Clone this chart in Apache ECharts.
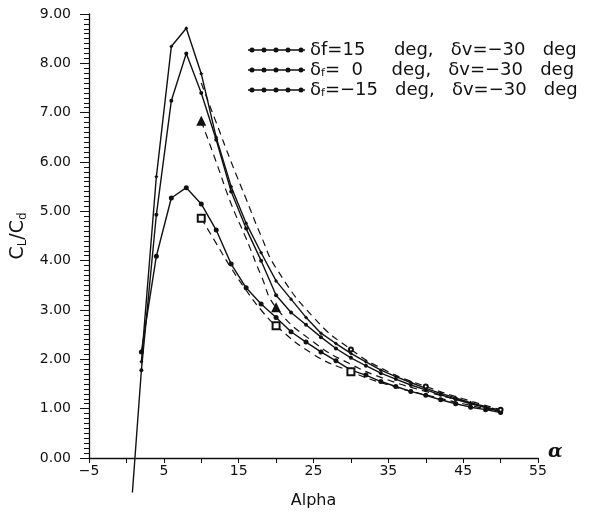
<!DOCTYPE html>
<html>
<head>
<meta charset="utf-8">
<script src="https://cdn.jsdelivr.net/npm/echarts@6/dist/echarts.min.js"></script>
<style>
  html, body { margin: 0; padding: 0; background: #fff; }
  #main { width: 598px; height: 514px; }
</style>
</head>
<body>
<div id="main"></div>
<script>
// angle of attack (deg)
const alpha = [0.8, 2, 4, 6, 8, 10, 12, 14, 16, 18, 20, 22, 24, 26, 28, 30, 32, 34, 36, 38, 40, 42, 44, 46, 48, 50];
// CL/CD, solid curves
const flap15 = [null, 2.15, 4.09, 5.27, 5.48, 5.15, 4.62, 3.93, 3.45, 3.12, 2.85, 2.56, 2.35, 2.15, 1.97, 1.78, 1.68, 1.55, 1.45, 1.35, 1.27, 1.18, 1.10, 1.03, 0.98, 0.92];
const flap0 = [-0.7, 1.78, 4.93, 7.24, 8.20, 7.40, 6.45, 5.40, 4.65, 4.00, 3.30, 2.95, 2.70, 2.45, 2.22, 2.03, 1.87, 1.72, 1.60, 1.48, 1.38, 1.28, 1.19, 1.10, 1.02, 0.94];
const flapM15 = [null, 1.95, 5.70, 8.34, 8.71, 7.79, 6.50, 5.50, 4.76, 4.16, 3.59, 3.22, 2.85, 2.53, 2.32, 2.12, 1.95, 1.78, 1.65, 1.53, 1.41, 1.31, 1.22, 1.12, 1.04, 0.94];
// dashed curves (no legend entry)
const alphaDash = [10, 12, 14, 16, 18, 20, 25, 30, 35, 40, 45, 50];
const dashTri = [6.83, 6.00, 5.15, 4.45, 3.70, 3.05, 2.35, 1.90, 1.58, 1.35, 1.15, 0.97];
const dashSq = [4.86, 4.35, 3.85, 3.40, 3.00, 2.68, 2.10, 1.75, 1.48, 1.28, 1.10, 0.93];
const dashUp = [7.60, 6.80, 6.00, 5.25, 4.50, 3.85, 2.85, 2.20, 1.75, 1.45, 1.20, 0.98];

const names = ["flap15", "flap0", "flapM15"];
const legendText = {
  flap15: "δf=15     deg,   δv=−30   deg",
  flap0: "δ{sub|f}=  0     deg,   δv=−30   deg",
  flapM15: "δ{sub|f}=−15   deg,   δv=−30   deg"
};

function pairs(xs, ys) {
  return xs.map((x, i) => [x, ys[i]]);
}

const FONT = "DejaVu Sans";
const INK = "#111";

// legend icon: line with dots (all subpaths clockwise so they fill solid)
const dot = cx => "M" + cx + ",3a2.5,2.5 0 1,1 5,0a2.5,2.5 0 1,1 -5,0Z";
const dotIcon = "path://M0,2.3H57V3.7H0Z" + [1.5, 13.5, 25.5, 37.5, 50.5].map(dot).join("");

function solid(name, ys, size, symbol) {
  return {
    name: name,
    type: "line",
    data: pairs(alpha, ys),
    clip: false,
    symbol: symbol,
    symbolSize: function (v) { return v[0] < 1.5 ? 0 : size; },
    lineStyle: { color: INK, width: 1.4 },
    itemStyle: { color: INK },
    connectNulls: false
  };
}

function dashed(name, ys, symbol, size) {
  return {
    name: name,
    type: "line",
    data: pairs(alphaDash, ys),
    smooth: true,
    symbol: symbol,
    symbolSize: function (v) { return v[0] % 10 === 0 ? size(v[0]) : 0; },
    lineStyle: { color: INK, width: 1.2, type: [7, 5] },
    itemStyle: { color: INK, borderColor: INK, borderWidth: 1.2 }
  };
}

var myChart = echarts.init(document.getElementById("main"));
myChart.setOption({
  animation: false,
  backgroundColor: "#fff",
  grid: { left: 89, right: 60, top: 14, bottom: 52 },
  legend: {
    data: names.map(n => ({ name: n, icon: dotIcon, itemStyle: { color: INK, borderWidth: 0 } })),
    orient: "vertical",
    left: 243,
    top: 36,
    itemWidth: 57,
    itemHeight: 7,
    itemGap: 2,
    formatter: function (n) { return legendText[n]; },
    textStyle: {
      fontFamily: FONT,
      fontSize: 18,
      color: INK,
      lineHeight: 18,
      rich: { sub: { fontSize: 11, verticalAlign: "bottom", padding: [9, 0, 0, 0], fontFamily: FONT, color: INK } }
    }
  },
  xAxis: {
    type: "value",
    min: -5,
    max: 55,
    interval: 5,
    name: "Alpha",
    nameLocation: "middle",
    nameGap: 35,
    nameTextStyle: { fontFamily: FONT, fontSize: 16, color: INK },
    axisLine: { onZero: false, lineStyle: { color: INK, width: 1.3 } },
    axisTick: { length: 5, lineStyle: { color: INK } },
    axisLabel: {
      margin: 6,
      fontFamily: FONT,
      fontSize: 14,
      color: INK,
      formatter: function (v) {
        if ((v + 5) % 10 !== 0) return "";
        return v < 0 ? "−" + Math.abs(v) : String(v);
      }
    },
    splitLine: { show: false }
  },
  yAxis: {
    type: "value",
    min: 0,
    max: 9,
    interval: 1,
    name: "C{sub|L}/C{sub|d}",
    nameLocation: "middle",
    nameRotate: 90,
    nameGap: 55,
    nameTextStyle: {
      fontFamily: FONT,
      fontSize: 19,
      color: INK,
      rich: { sub: { fontSize: 12, verticalAlign: "bottom", padding: [10, 0, 0, 0], fontFamily: FONT, color: INK } }
    },
    axisLine: { show: true, onZero: false, lineStyle: { color: INK, width: 1.3 } },
    axisTick: { length: 9, lineStyle: { color: INK } },
    minorTick: { show: true, splitNumber: 10, length: 5, lineStyle: { color: INK } },
    axisLabel: {
      margin: 18,
      fontFamily: FONT,
      fontSize: 14,
      color: INK,
      formatter: function (v) { return v.toFixed(2); }
    },
    splitLine: { show: false }
  },
  graphic: [
    {
      type: "text",
      left: 548,
      top: 443,
      style: { text: "α", font: "italic bold 19px 'DejaVu Serif'", fill: INK }
    }
  ],
  series: [
    solid("flap15", flap15, 5, "circle"),
    solid("flap0", flap0, 4, "circle"),
    solid("flapM15", flapM15, 4, "diamond"),
    dashed("dashTri", dashTri, "triangle", a => (a <= 20 ? 8 : 0)),
    dashed("dashSq", dashSq, "emptyRect", a => (a <= 30 ? 7 : 0)),
    dashed("dashUp", dashUp, "emptyCircle", a => (a >= 30 ? 4 : 0))
  ]
});
</script>
</body>
</html>
